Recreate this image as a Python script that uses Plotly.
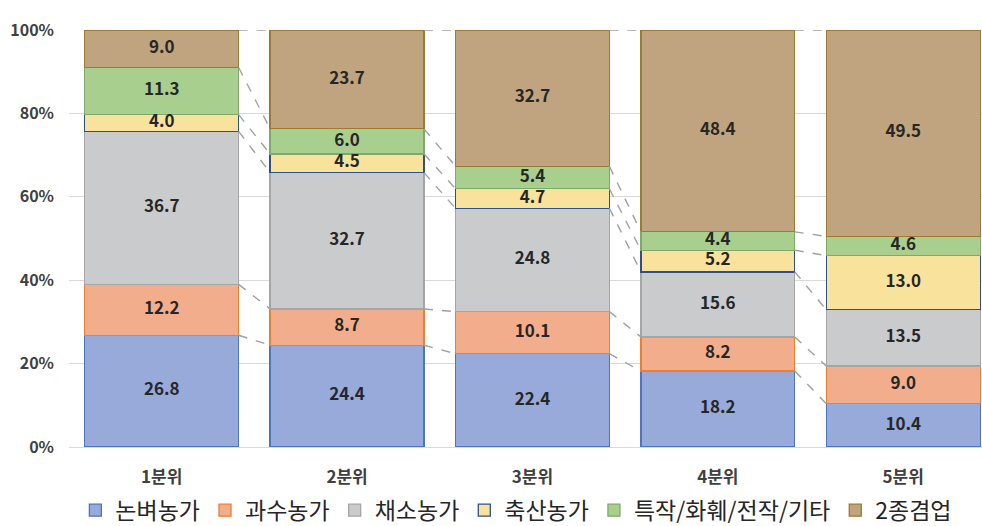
import plotly.graph_objects as go

# Farm household composition by income quintile (%)
categories = ["1분위", "2분위", "3분위", "4분위", "5분위"]
series_names = ["논벼농가", "과수농가", "채소농가", "축산농가", "특작/화훼/전작/기타", "2종겸업"]
rice = [26.8, 24.4, 22.4, 18.2, 10.4]
fruit = [12.2, 8.7, 10.1, 8.2, 9.0]
vegetable = [36.7, 32.7, 24.8, 15.6, 13.5]
livestock = [4.0, 4.5, 4.7, 5.2, 13.0]
special = [11.3, 6.0, 5.4, 4.4, 4.6]
part_time = [9.0, 23.7, 32.7, 48.4, 49.5]
y_tick_vals = [0, 20, 40, 60, 80, 100]
y_tick_text = ["0%", "20%", "40%", "60%", "80%", "100%"]

series_values = [rice, fruit, vegetable, livestock, special, part_time]
fill_colors = ["#97AADA", "#F2AE8C", "#CACBCD", "#F9E29B", "#A9CF8F", "#C0A47F"]
line_colors = ["#4A74C4", "#ED7D31", "#A5A5A5", "#2F4E8C", "#7FA86A", "#9C7A2E"]

FONT = "Noto Sans CJK KR"
BAR_W = 0.83
xs = list(range(len(categories)))

# normalise each column to 100 (100% stacked)
totals = [sum(s[i] for s in series_values) for i in xs]
norm = [[s[i] / totals[i] * 100 for i in xs] for s in series_values]
cum_top = []
running = [0.0] * len(xs)
for s in norm:
    running = [running[i] + s[i] for i in xs]
    cum_top.append(list(running))

fig = go.Figure()

# dashed series lines joining the top of each segment between neighbouring bars
for k in range(len(series_values)):
    lx, ly = [], []
    for i in xs[:-1]:
        lx += [i + BAR_W / 2, i + 1 - BAR_W / 2, None]
        ly += [cum_top[k][i], cum_top[k][i + 1], None]
    fig.add_trace(go.Scatter(
        x=lx, y=ly, mode="lines", showlegend=False, hoverinfo="skip",
        line=dict(color="#A0A0A0", width=1.4, dash="dash"),
    ))

for k, (name, vals) in enumerate(zip(series_names, series_values)):
    fig.add_trace(go.Bar(
        x=xs, y=vals, name=name, width=BAR_W,
        marker=dict(color=fill_colors[k], line=dict(color=line_colors[k], width=1.3)),
    ))

# value labels centred in each segment
lab_x, lab_y, lab_t = [], [], []
for k, vals in enumerate(series_values):
    for i in xs:
        lab_x.append(i)
        lab_y.append(cum_top[k][i] - norm[k][i] / 2)
        lab_t.append(f"<b>{vals[i]:.1f}</b>")
fig.add_trace(go.Scatter(
    x=lab_x, y=lab_y, text=lab_t, mode="text", showlegend=False, hoverinfo="skip",
    textfont=dict(family=FONT, size=17, color="#262626"), cliponaxis=False,
))

fig.update_layout(
    barmode="stack", barnorm="percent",
    width=982, height=526,
    margin=dict(l=69, r=0, t=30, b=79),
    paper_bgcolor="white", plot_bgcolor="white",
    font=dict(family=FONT, color="#404040"),
    xaxis=dict(
        range=[-0.5, 4.425], tickvals=xs,
        ticktext=[f"<b>{c}</b>" for c in categories],
        tickfont=dict(size=17, color="#404040"), showgrid=False,
        showline=True, linecolor="#D9D9D9", linewidth=1.3, ticks="",
        ticklabelstandoff=14, zeroline=False,
    ),
    yaxis=dict(
        range=[0, 100], tickvals=y_tick_vals,
        ticktext=[f"<b>{t}</b>" for t in y_tick_text],
        tickfont=dict(size=16, color="#404040"),
        showgrid=True, gridcolor="#D9D9D9", gridwidth=1.3, zeroline=False,
        ticks="", ticklabelstandoff=14,
    ),
    legend=dict(
        orientation="h", x=0.49, xanchor="center",
        yref="container", y=0.03, yanchor="middle",
        font=dict(family=FONT, size=23, color="#262626"),
        traceorder="normal", itemclick=False,
    ),
    showlegend=True,
)

fig.write_html("out.html")
